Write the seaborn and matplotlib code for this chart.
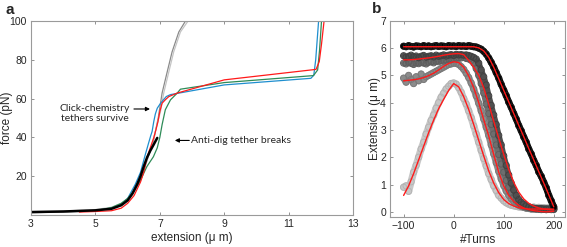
import numpy as np
import pandas as pd
import seaborn as sns
import matplotlib.pyplot as plt

sns.set_style('ticks')
plt.rcParams['font.family'] = ['Liberation Sans', 'DejaVu Sans']
plt.rcParams['xtick.direction'] = 'in'
plt.rcParams['ytick.direction'] = 'in'

# ---------------- panel a: force-extension curves ----------------
gray_lt_ext = [3.0, 4.0, 5.0, 5.5, 5.8, 6.0, 6.2, 6.4, 6.6, 6.75, 6.86, 7.02, 7.12, 7.28, 7.43, 7.64, 7.88]
gray_lt_f = [1.8, 2.0, 2.8, 4.0, 6.0, 8.5, 13, 19, 28, 36, 43, 53.3, 62.8, 73.8, 84, 94.3, 100]
gray_dk_ext = [3.0, 4.0, 5.0, 5.5, 5.8, 6.0, 6.2, 6.4, 6.6, 6.8, 6.95, 7.07, 7.23, 7.38, 7.59, 7.8]
gray_dk_f = [1.2, 1.5, 2.2, 3.4, 5.2, 7.8, 12, 18, 28, 38, 50, 62.8, 73.8, 84, 94.3, 100]
black_ext = [3.0, 4.0, 5.0, 5.5, 5.8, 6.0, 6.15, 6.3, 6.4, 6.5, 6.6, 6.7, 6.8, 6.92]
black_f = [1.5, 1.8, 2.4, 3.2, 5.0, 7.5, 11, 16, 20, 25, 29.5, 33, 36, 39.7]
red_ext = [4.5, 5.0, 5.5, 5.8, 6.0, 6.2, 6.4, 6.5, 6.6, 6.7, 6.81, 6.88, 6.94, 7.0, 7.07,
           7.18, 7.28, 7.54, 9.0, 11.85, 11.95, 12.02, 12.1]
red_f = [1.5, 1.8, 2.2, 3.5, 6.0, 10, 17, 22, 29.5, 34.5, 39.7, 44, 48, 53.3, 57.6,
         59.5, 61, 62.8, 69.6, 75, 79, 88, 100]
blue_ext = [4.5, 5.0, 5.5, 5.8, 6.0, 6.24, 6.4, 6.55, 6.65, 6.72, 6.76, 6.81, 6.86, 6.92, 7.0,
            7.07, 7.2, 7.33, 9.0, 11.69, 11.78, 11.84, 11.93]
blue_f = [1.8, 2.2, 3.5, 5.5, 8.5, 15.9, 22, 31.2, 37, 41, 43, 48, 52, 55, 57,
          58.5, 61, 62, 67, 70.4, 72, 80, 100]
green_ext = [4.5, 5.0, 5.5, 5.8, 6.0, 6.2, 6.4, 6.6, 6.8, 6.92, 7.0, 7.07, 7.17, 7.33, 7.54,
             7.64, 9.0, 11.77, 11.9, 11.96, 12.02]
green_f = [1.8, 2.3, 3.8, 6.0, 8.5, 12.5, 18, 25, 30, 34.6, 40, 46.5, 54.2, 59.3, 62.8,
           64.8, 68.2, 71.8, 74.7, 85, 100]

# ---------------- panel b: extension vs turns ----------------
turns = np.arange(-100, 205, 5)
turns_fit = np.arange(-100, 210, 10)

ext_black = [6.07, 6.05, 6.09, 6.06, 6.04, 6.08, 6.07, 6.05, 6.09, 6.06, 6.08, 6.05, 6.07, 6.09, 6.06,
             6.08, 6.07, 6.05, 6.09, 6.07, 6.08, 6.06, 6.09, 6.07, 6.08, 6.06, 6.09, 6.07, 6.05,
             6.04, 6.0, 5.96, 5.88, 5.78, 5.64, 5.48, 5.3, 5.1, 4.9, 4.67, 4.46, 4.26, 4.02, 3.83,
             3.6, 3.4, 3.16, 2.97, 2.74, 2.55, 2.3, 2.12, 1.88, 1.7, 1.46, 1.3, 1.08, 0.88, 0.6,
             0.4, 0.18]
ext_dark = [5.72, 5.66, 5.7, 5.74, 5.68, 5.71, 5.65, 5.7, 5.73, 5.67, 5.7, 5.72, 5.68, 5.74, 5.7,
            5.72, 5.75, 5.71, 5.74, 5.76, 5.73, 5.77, 5.75, 5.76, 5.74, 5.75, 5.73, 5.7, 5.66,
            5.6, 5.45, 5.2, 4.95, 4.65, 4.25, 3.9, 3.55, 3.2, 2.8, 2.45, 2.05, 1.7, 1.35, 1.05,
            0.8, 0.6, 0.45, 0.35, 0.28, 0.22, 0.18, 0.15, 0.13, 0.12, 0.11, 0.12, 0.1, 0.11, 0.1,
            0.12, 0.1]
ext_mid = [5.45, 5.42, 5.48, 5.44, 5.4, 5.46, 5.43, 5.47, 5.45, 5.42, 5.48, 5.5, 5.46, 5.52, 5.5,
           5.55, 5.53, 5.57, 5.6, 5.58, 5.62, 5.63, 5.65, 5.64, 5.66, 5.62, 5.6, 5.55, 5.45,
           5.25, 5.0, 4.7, 4.35, 3.95, 3.6, 3.2, 2.85, 2.45, 2.1, 1.75, 1.45, 1.15, 0.9, 0.7,
           0.55, 0.42, 0.33, 0.26, 0.2, 0.17, 0.15, 0.13, 0.12, 0.11, 0.1, 0.09, 0.1, 0.08, 0.09,
           0.08, 0.08]
ext_gray = [4.9, 4.75, 5.0, 4.85, 4.7, 4.95, 4.8, 5.05, 4.85, 4.95, 5.0, 5.05, 5.1, 5.15, 5.2,
            5.25, 5.3, 5.35, 5.4, 5.42, 5.45, 5.44, 5.4, 5.32, 5.22, 5.08, 4.92, 4.72, 4.5,
            4.25, 3.98, 3.7, 3.4, 3.1, 2.8, 2.45, 2.12, 1.8, 1.48, 1.2, 0.96, 0.76, 0.6, 0.48,
            0.38, 0.3, 0.24, 0.2, 0.16, 0.13, 0.12, 0.1, 0.1, 0.09, 0.1, 0.08, 0.09, 0.08, 0.1,
            0.09, 0.1]
ext_light = [0.9, 0.95, 0.75, 1.1, 1.45, 1.7, 2.0, 2.3, 2.55, 2.85, 3.1, 3.35, 3.55, 3.8, 4.0,
             4.2, 4.35, 4.5, 4.6, 4.7, 4.72, 4.68, 4.55, 4.38, 4.15, 3.95, 3.7, 3.45, 3.15,
             2.85, 2.55, 2.25, 1.95, 1.68, 1.4, 1.18, 0.95, 0.78, 0.6, 0.5, 0.4, 0.33, 0.28, 0.24,
             0.22, 0.2, 0.18, 0.17, 0.2, 0.16, 0.18, 0.15, 0.17, 0.15, 0.16, 0.14, 0.15, 0.13, 0.15,
             0.14, 0.15]

fit_1 = [6.05, 6.05, 6.05, 6.05, 6.05, 6.05, 6.05, 6.05, 6.05, 6.05, 6.05, 6.05, 6.05, 6.05, 6.05,
         6.01, 5.9, 5.66, 5.3, 4.88, 4.45, 4.03, 3.6, 3.17, 2.75, 2.32, 1.9, 1.47, 1.05, 0.62, 0.18]
fit_2 = [5.57, 5.57, 5.58, 5.6, 5.62, 5.64, 5.67, 5.7, 5.74, 5.77, 5.79, 5.8, 5.76, 5.55, 5.3,
         5.0, 4.55, 3.95, 3.32, 2.7, 2.1, 1.55, 1.08, 0.72, 0.47, 0.31, 0.21, 0.14, 0.1, 0.08, 0.07]
fit_3 = [4.8, 4.82, 4.84, 4.87, 4.92, 4.99, 5.08, 5.2, 5.33, 5.44, 5.5, 5.47, 5.3, 4.98, 4.55,
         4.0, 3.38, 2.78, 2.1, 1.45, 0.95, 0.6, 0.38, 0.24, 0.14, 0.08, 0.04, 0.02, 0.0, 0.0, 0.02]
fit_4 = [0.6, 0.95, 1.4, 1.9, 2.4, 2.9, 3.36, 3.78, 4.12, 4.45, 4.7, 4.58, 4.22, 3.75, 3.2,
         2.62, 2.05, 1.5, 1.05, 0.7, 0.45, 0.3, 0.21, 0.15, 0.12, 0.1, 0.1, 0.1, 0.1, 0.1, 0.1]

fig = plt.figure(figsize=(5.67, 2.47), dpi=100)
ax1 = fig.add_axes([0.0547, 0.1296, 0.568, 0.786])
ax2 = fig.add_axes([0.688, 0.1227, 0.309, 0.793])

curves = [
    (gray_dk_ext, gray_dk_f, '#8a8a8a', 0.9),
    (gray_lt_ext, gray_lt_f, '#c4c4c4', 0.9),
    (blue_ext, blue_f, '#1f8fcf', 0.9),
    (green_ext, green_f, '#2e8b57', 0.9),
    (red_ext, red_f, '#ff1a1a', 0.9),
    (black_ext, black_f, '#000000', 1.8),
]
for xs, ys, c, lw in curves:
    sns.lineplot(x=xs, y=ys, sort=False, estimator=None, color=c, lw=lw, ax=ax1)

ax1.set_xlim(3, 13)
ax1.set_ylim(0, 100)
ax1.set_xticks([3, 5, 7, 9, 11, 13])
ax1.set_yticks([20, 40, 60, 80, 100])
ax1.set_xlabel('extension (\u03bc m)', fontsize=8.5, labelpad=2)
ax1.set_ylabel('force (pN)', fontsize=8.5)
ax1.yaxis.set_label_coords(-0.057, 0.5)

ax1.text(6.06, 52.5, 'Click-chemistry\ntethers survive', ha='right', va='center',
         ma='center', fontsize=7.5, family=['Lato', 'DejaVu Sans'], linespacing=1.15)
ax1.annotate('', xy=(6.78, 54.6), xytext=(6.11, 54.6),
             arrowprops=dict(arrowstyle='-|>', color='black', lw=0.8, mutation_scale=6))
ax1.text(7.98, 38.4, 'Anti-dig tether breaks', ha='left', va='center',
         fontsize=7.5, family=['Lato', 'DejaVu Sans'])
ax1.annotate('', xy=(7.38, 38.4), xytext=(8.0, 38.4),
             arrowprops=dict(arrowstyle='-|>', color='black', lw=0.8, mutation_scale=6))

scatters = [
    (ext_light, '#c8c8c8', '#b4b4b4', 5.2),
    (ext_gray, '#8c8c8c', '#7a7a7a', 4.8),
    (ext_mid, '#6e6e6e', '#5e5e5e', 4.2),
    (ext_dark, '#505050', '#404040', 4.2),
    (ext_black, '#000000', '#1a1a1a', 4.8),
]
for ys, c, ec, band in scatters:
    # dense band of measured points, drawn as a thick trace plus open circles
    sns.lineplot(x=turns, y=ys, color=c, lw=band, ax=ax2, zorder=2)
    sns.scatterplot(x=turns, y=ys, marker='o', s=20, facecolor='none', edgecolor=ec,
                    linewidth=0.7, ax=ax2, zorder=2)
for ys in [fit_1, fit_2, fit_3, fit_4]:
    sns.lineplot(x=turns_fit, y=ys, color='#ff1a1a', lw=1.0, ax=ax2, zorder=3)

ax2.set_xlim(-127, 223)
ax2.set_ylim(-0.18, 7)
ax2.set_xticks([-100, 0, 100, 200])
ax2.set_yticks(range(0, 8))
ax2.set_xlabel('#Turns', fontsize=8.5, labelpad=2)
ax2.set_ylabel('Extension (\u03bc m)', fontsize=8.5)
ax2.yaxis.set_label_coords(-0.05, 0.5)

for ax in (ax1, ax2):
    ax.tick_params(labelsize=7.5, length=2.5, width=0.6, color='#808080', top=True, right=True, pad=3)
    for sp in ax.spines.values():
        sp.set_color('#9a9a9a')
        sp.set_linewidth(0.8)

fig.text(0.009, 0.958, 'a', fontsize=11, fontweight='bold', ha='left', va='center')
fig.text(0.656, 0.962, 'b', fontsize=11, fontweight='bold', ha='left', va='center')

plt.savefig('out.png', dpi=100)
